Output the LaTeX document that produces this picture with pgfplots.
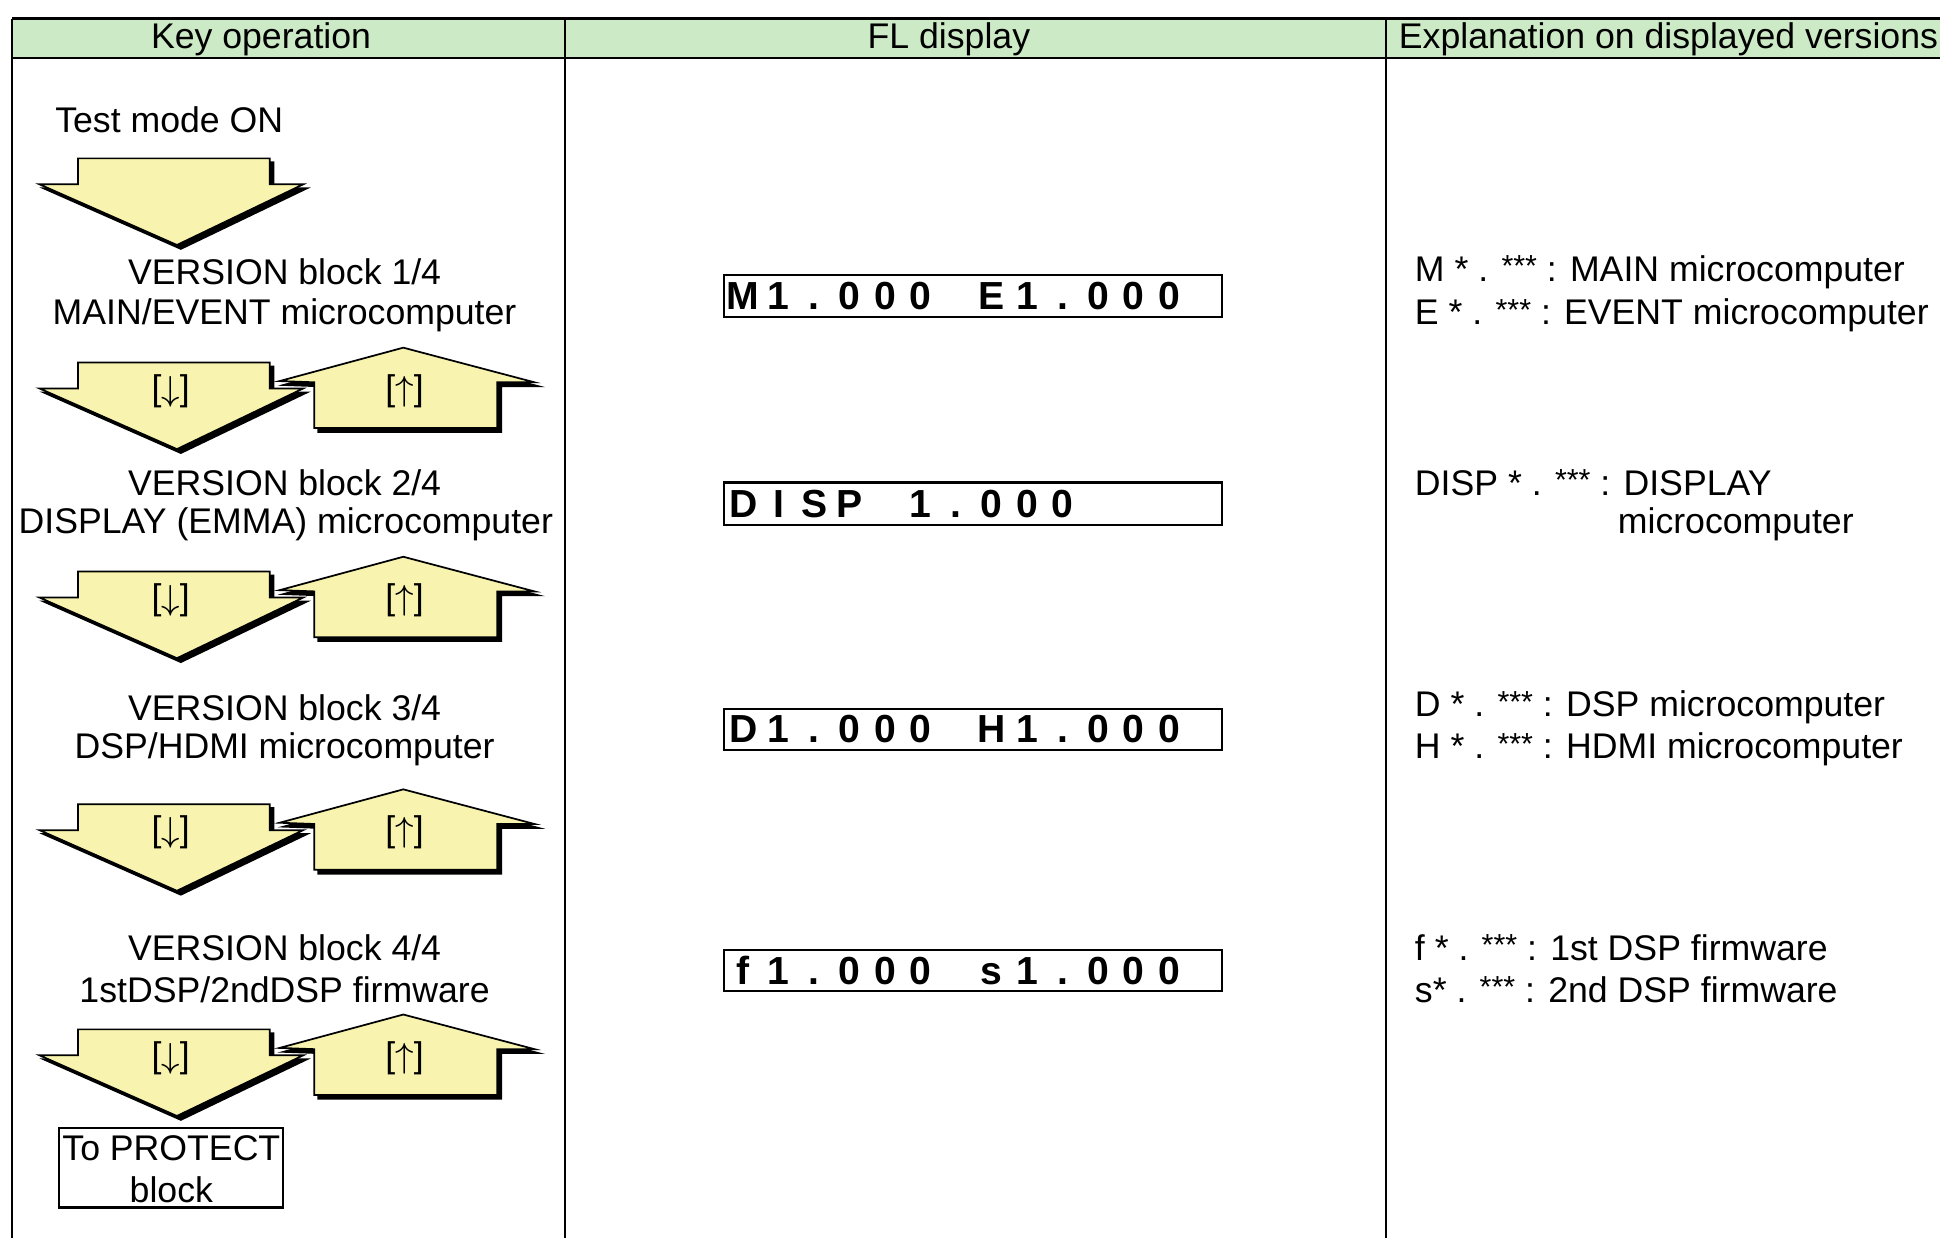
\documentclass[border=0pt]{standalone}
\usepackage{pgfplots}
\pgfplotsset{compat=1.18}
\usepackage{fontspec}
\setmainfont{Liberation Sans}
\definecolor{hdr}{RGB}{204,234,198}
\definecolor{ayel}{RGB}{248,244,176}
\newcommand\fl[1]{\makebox[2.87mm][c]{#1}}
\newcommand\st{\raisebox{0.25ex}{\fontsize{7}{7}\selectfont ***}}
\begin{document}
\fontsize{8.2}{9.8}\selectfont
\begin{tikzpicture}[
  tx/.style={font=\fontsize{8.2}{9.8}\selectfont,inner sep=0pt},
  fld/.style={anchor=west,inner sep=0pt,font=\fontsize{9}{10}\selectfont\bfseries}]
\begin{axis}[width=156.8mm,height=100.1mm,scale only axis,hide axis,
  xmin=0,xmax=1568,ymin=0,ymax=1001,y dir=reverse,clip=false,
  dn/.style={fill=ayel,draw=black,line width=0.4pt,
    preaction={fill=black,transform canvas={xshift=0.9pt,yshift=-0.9pt}}},
  ln/.style={black,line width=0.5pt}]
% invisible frame fixing the picture size
\addplot[draw=none,forget plot] coordinates {(0,0)(1568,1001)};
% header band
\addplot[fill=hdr,draw=none] coordinates {(10,15)(1568,15)(1568,47)(10,47)} -- cycle;
% table rules
\addplot[ln] coordinates {(10,15)(1568,15)};
\addplot[ln] coordinates {(10,47)(1568,47)};
\addplot[ln] coordinates {(10,15)(10,1001)};
\addplot[ln] coordinates {(457,15)(457,1001)};
\addplot[ln] coordinates {(1120,15)(1120,1001)};
% header texts
\node[tx] at (axis cs:211,32) {Key operation};
\node[tx] at (axis cs:767,32) {FL display};
\node[tx,anchor=west] at (axis cs:1130,32) {Explanation on displayed versions};
% left column
\node[tx,anchor=west] at (axis cs:44,97) {Test mode ON};
% down arrows
\addplot[dn] coordinates {(63,128)(218,128)(218,149)(245,149)(143,198)(32,149)(63,149)} -- cycle;
\addplot[dn] coordinates {(63,293)(218,293)(218,314)(245,314)(143,363)(32,314)(63,314)} -- cycle;
\addplot[dn] coordinates {(63,462)(218,462)(218,483)(245,483)(143,532)(32,483)(63,483)} -- cycle;
\addplot[dn] coordinates {(63,650)(218,650)(218,671)(245,671)(143,720)(32,671)(63,671)} -- cycle;
\addplot[dn] coordinates {(63,832)(218,832)(218,853)(245,853)(143,902)(32,853)(63,853)} -- cycle;
% up arrows
\addplot[dn] coordinates {(326,281)(432,309)(402,309)(402,346)(254,346)(254,309)(226,308)} -- cycle;
\addplot[dn] coordinates {(326,450)(432,478)(402,478)(402,515)(254,515)(254,478)(226,477)} -- cycle;
\addplot[dn] coordinates {(326,638)(432,666)(402,666)(402,703)(254,703)(254,666)(226,665)} -- cycle;
\addplot[dn] coordinates {(326,820)(432,848)(402,848)(402,885)(254,885)(254,848)(226,847)} -- cycle;
% arrow labels
\node[tx] at (axis cs:138,316) {[$\downarrow$]};
\node[tx] at (axis cs:327,316) {[$\uparrow$]};
\node[tx] at (axis cs:138,485) {[$\downarrow$]};
\node[tx] at (axis cs:327,485) {[$\uparrow$]};
\node[tx] at (axis cs:138,673) {[$\downarrow$]};
\node[tx] at (axis cs:327,673) {[$\uparrow$]};
\node[tx] at (axis cs:138,855) {[$\downarrow$]};
\node[tx] at (axis cs:327,855) {[$\uparrow$]};
% block labels
\node[tx] at (axis cs:230,220) {VERSION block 1/4};
\node[tx] at (axis cs:230,255) {MAIN/EVENT microcomputer};
\node[tx] at (axis cs:230,390) {VERSION block 2/4};
\node[tx] at (axis cs:231,424) {DISPLAY (EMMA) microcomputer};
\node[tx] at (axis cs:230,572) {VERSION block 3/4};
\node[tx] at (axis cs:230,606) {DSP/HDMI microcomputer};
\node[tx] at (axis cs:230,766) {VERSION block 4/4};
\node[tx] at (axis cs:230,800) {1stDSP/2ndDSP firmware};
% protect box
\addplot[black,line width=0.5pt,fill=white] coordinates {(48,912)(229,912)(229,976)(48,976)} -- cycle;
\node[tx] at (axis cs:138.5,928) {To PROTECT};
\node[tx] at (axis cs:138.5,962) {block};
% FL display boxes
\addplot[ln] coordinates {(585,222)(988,222)(988,256)(585,256)} -- cycle;
\addplot[ln] coordinates {(585,390)(988,390)(988,424)(585,424)} -- cycle;
\addplot[ln] coordinates {(585,573)(988,573)(988,606)(585,606)} -- cycle;
\addplot[ln] coordinates {(585,768)(988,768)(988,801)(585,801)} -- cycle;
\node[fld] at (axis cs:585.6,239) {\fl{M}\fl{1}\fl{.}\fl{0}\fl{0}\fl{0}\fl{}\fl{E}\fl{1}\fl{.}\fl{0}\fl{0}\fl{0}};
\node[fld] at (axis cs:585.6,407) {\fl{D}\fl{I}\fl{S}\fl{P}\fl{}\fl{1}\fl{.}\fl{0}\fl{0}\fl{0}};
\node[fld] at (axis cs:585.6,589.5) {\fl{D}\fl{1}\fl{.}\fl{0}\fl{0}\fl{0}\fl{}\fl{H}\fl{1}\fl{.}\fl{0}\fl{0}\fl{0}};
\node[fld] at (axis cs:585.6,784.5) {\fl{f}\fl{1}\fl{.}\fl{0}\fl{0}\fl{0}\fl{}\fl{s}\fl{1}\fl{.}\fl{0}\fl{0}\fl{0}};
% explanations
\node[tx,anchor=west] at (axis cs:1143,220) {M * . \st\ : MAIN microcomputer};
\node[tx,anchor=west] at (axis cs:1143,255) {E * . \st\ : EVENT microcomputer};
\node[tx,anchor=west] at (axis cs:1143,390) {DISP * . \st\ : DISPLAY};
\node[tx,anchor=west] at (axis cs:1307,424) {microcomputer};
\node[tx,anchor=west] at (axis cs:1143,572) {D * . \st\ : DSP microcomputer};
\node[tx,anchor=west] at (axis cs:1143,606) {H * . \st\ : HDMI microcomputer};
\node[tx,anchor=west] at (axis cs:1143,766) {f * . \st\ : 1st DSP firmware};
\node[tx,anchor=west] at (axis cs:1143,800) {s* . \st\ : 2nd DSP firmware};
\end{axis}
\end{tikzpicture}
\end{document}
